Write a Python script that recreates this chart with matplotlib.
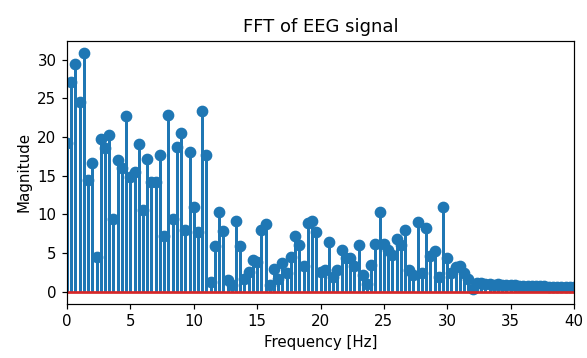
import matplotlib
matplotlib.use("Agg")
import matplotlib.pyplot as plt
import numpy as np

# FFT bin spacing of the EEG window (Hz)
freq_step = 1 / 3

# magnitude per FFT bin (0 .. 40 Hz)
magnitude = [
    19.2, 27.1, 29.4, 24.5, 30.9, 14.5, 16.6, 4.5, 19.7, 18.6,
    20.2, 9.4, 17.0, 16.0, 22.7, 14.8, 15.5, 19.1, 10.5, 17.2,
    14.2, 14.2, 17.7, 7.2, 22.9, 9.4, 18.7, 20.5, 8.0, 18.0,
    10.9, 7.7, 23.3, 17.7, 1.3, 5.9, 10.3, 7.8, 1.5, 0.9,
    9.2, 5.9, 1.6, 2.5, 4.1, 3.9, 8.0, 8.7, 0.9, 3.0,
    1.7, 3.7, 2.4, 4.5, 7.2, 6.1, 3.3, 8.9, 9.2, 7.7,
    2.6, 2.8, 6.4, 1.9, 2.8, 5.4, 4.3, 4.3, 3.3, 6.1,
    2.1, 1.0, 3.5, 6.2, 10.3, 6.2, 5.4, 4.8, 6.8, 6.1,
    8.0, 2.8, 2.1, 9.0, 2.4, 8.3, 4.6, 5.3, 1.9, 11.0,
    4.4, 2.4, 3.2, 3.3, 2.4, 1.7, 0.3, 1.1, 1.1, 1.0,
    0.98, 0.93, 0.95, 0.88, 0.86, 0.84, 0.82, 0.79, 0.77, 0.76,
    0.73, 0.71, 0.70, 0.68, 0.66, 0.64, 0.62, 0.61, 0.59, 0.57,
    0.55,
]

freqs = np.arange(len(magnitude)) * freq_step

fig = plt.figure(figsize=(587 / 108, 358 / 108), dpi=108)
ax = fig.add_axes([0.1141, 0.1517, 0.8638, 0.7346])

markers, stems, base = ax.stem(freqs, magnitude, linefmt="C0-",
                               markerfmt="C0o", basefmt="C3-")
stems.set_linewidth(2.0)
markers.set_markersize(6.8)
base.set_linewidth(1.8)
ax.set_xlim(0, 40)
ax.set_title("FFT of EEG signal")
ax.set_xlabel("Frequency [Hz]")
ax.set_ylabel("Magnitude")

fig.savefig("out.png", dpi=108)
